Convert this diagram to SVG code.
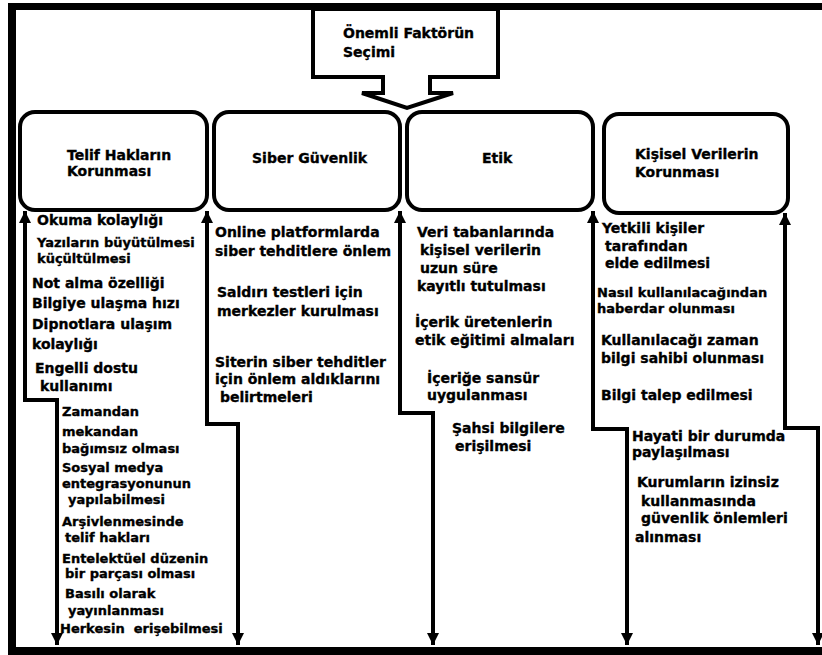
<svg xmlns="http://www.w3.org/2000/svg" width="822" height="655" viewBox="0 0 822 655">
<style>
text{font-family:"DejaVu Sans","Liberation Sans",sans-serif;font-weight:bold;fill:#000;stroke:#000;stroke-width:0.35}
.h{font-size:14px}
.a{font-size:14px}
.b{font-size:13px}
.box{fill:#fff;stroke:#000;stroke-width:4}
.ln{fill:none;stroke:#000;stroke-width:4;stroke-linejoin:miter}
</style>
<defs>
<marker id="ah" markerUnits="userSpaceOnUse" markerWidth="14" markerHeight="12" refX="12" refY="6" orient="auto-start-reverse" viewBox="0 0 14 12">
<path d="M0,0 L12,6 L0,12 z" fill="#000"/>
</marker>
</defs>
<rect x="0" y="0" width="822" height="655" fill="#fff"/>
<g id="frame">
<rect x="8" y="3" width="814" height="7" fill="#000"/>
<rect x="8" y="3" width="8" height="652" fill="#000"/>
<rect x="8" y="647" width="814" height="8" fill="#000"/>
</g>
<g id="title">
<path class="box" d="M313,9 L498,9 L498,77 L430,77 L430,93 L453,93 L407,108 L362,93 L383,93 L383,77 L313,77 Z"/>
<text class="h" x="343" y="38">Önemli Faktörün</text>
<text class="h" x="343" y="57">Seçimi</text>
</g>
<g id="connectors">
<path class="ln" marker-start="url(#ah)" marker-end="url(#ah)" d="M25,211 L25,400 L57,400 L57,645"/>
<path class="ln" marker-start="url(#ah)" marker-end="url(#ah)" d="M207,211 L207,424 L238,424 L238,645"/>
<path class="ln" marker-start="url(#ah)" marker-end="url(#ah)" d="M400,211 L400,413 L433,413 L433,645"/>
<path class="ln" marker-start="url(#ah)" marker-end="url(#ah)" d="M593,211 L593,429 L627,429 L627,645"/>
<path class="ln" marker-start="url(#ah)" marker-end="url(#ah)" d="M785,213 L785,428 L818,428 L818,645"/>
</g>
<g id="box-telif">
<rect class="box" x="20" y="112" width="187" height="98" rx="15"/>
<text class="h" x="67" y="160">Telif Hakların</text>
<text class="h" x="67" y="176">Korunması</text>
</g>
<g id="box-siber">
<rect class="box" x="214" y="112" width="186" height="98" rx="15"/>
<text class="h" x="252" y="163">Siber Güvenlik</text>
</g>
<g id="box-etik">
<rect class="box" x="407" y="112" width="186" height="98" rx="15"/>
<text class="h" x="482" y="163">Etik</text>
</g>
<g id="box-kisisel">
<rect class="box" x="604" y="114" width="184" height="99" rx="15"/>
<text class="h" x="635" y="159">Kişisel Verilerin</text>
<text class="h" x="635" y="177">Korunması</text>
</g>
<g id="list-telif">
<text class="a" x="37" y="225">Okuma kolaylığı</text>
<text class="b" x="37" y="247">Yazıların büyütülmesi</text>
<text class="b" x="37" y="263">küçültülmesi</text>
<text class="a" x="32" y="288">Not alma özelliği</text>
<text class="a" x="32" y="308">Bilgiye ulaşma hızı</text>
<text class="a" x="32" y="329">Dipnotlara ulaşım</text>
<text class="a" x="32" y="349">kolaylığı</text>
<text class="a" x="35" y="373">Engelli dostu</text>
<text class="a" x="40" y="391">kullanımı</text>
<text class="b" x="62" y="416">Zamandan</text>
<text class="b" x="62" y="436">mekandan</text>
<text class="b" x="62" y="453">bağımsız olması</text>
<text class="b" x="62" y="472">Sosyal medya</text>
<text class="b" x="62" y="488">entegrasyonunun</text>
<text class="b" x="68" y="504">yapılabilmesi</text>
<text class="b" x="62" y="526">Arşivlenmesinde</text>
<text class="b" x="65" y="542">telif hakları</text>
<text class="b" x="62" y="563">Entelektüel düzenin</text>
<text class="b" x="65" y="578">bir parçası olması</text>
<text class="b" x="65" y="598">Basılı olarak</text>
<text class="b" x="68" y="615">yayınlanması</text>
<text class="b" x="60" y="633" xml:space="preserve">Herkesin  erişebilmesi</text>
</g>
<g id="list-siber">
<text class="a" x="215" y="237">Online platformlarda</text>
<text class="a" x="215" y="256">siber tehditlere önlem</text>
<text class="a" x="217" y="297">Saldırı testleri için</text>
<text class="a" x="217" y="316">merkezler kurulması</text>
<text class="a" x="215" y="367">Siterin siber tehditler</text>
<text class="a" x="215" y="384">için önlem aldıklarını</text>
<text class="a" x="220" y="402">belirtmeleri</text>
</g>
<g id="list-etik">
<text class="a" x="417" y="237">Veri tabanlarında</text>
<text class="a" x="420" y="255">kişisel verilerin</text>
<text class="a" x="420" y="273">uzun süre</text>
<text class="a" x="417" y="291">kayıtlı tutulması</text>
<text class="a" x="415" y="327">İçerik üretenlerin</text>
<text class="a" x="415" y="345">etik eğitimi almaları</text>
<text class="a" x="427" y="383">İçeriğe sansür</text>
<text class="a" x="427" y="400">uygulanması</text>
<text class="a" x="452" y="433">Şahsi bilgilere</text>
<text class="a" x="455" y="451">erişilmesi</text>
</g>
<g id="list-kisisel">
<text class="a" x="602" y="233">Yetkili kişiler</text>
<text class="a" x="605" y="251">tarafından</text>
<text class="a" x="605" y="268">elde edilmesi</text>
<text class="b" x="597" y="297">Nasıl kullanılacağından</text>
<text class="b" x="597" y="313">haberdar olunması</text>
<text class="a" x="601" y="345">Kullanılacağı zaman</text>
<text class="a" x="601" y="363">bilgi sahibi olunması</text>
<text class="a" x="601" y="400">Bilgi talep edilmesi</text>
<text class="a" x="632" y="441">Hayati bir durumda</text>
<text class="a" x="632" y="457">paylaşılması</text>
<text class="a" x="637" y="487">Kurumların izinsiz</text>
<text class="a" x="641" y="506">kullanmasında</text>
<text class="a" x="641" y="523">güvenlik önlemleri</text>
<text class="a" x="635" y="542">alınması</text>
</g>
</svg>
